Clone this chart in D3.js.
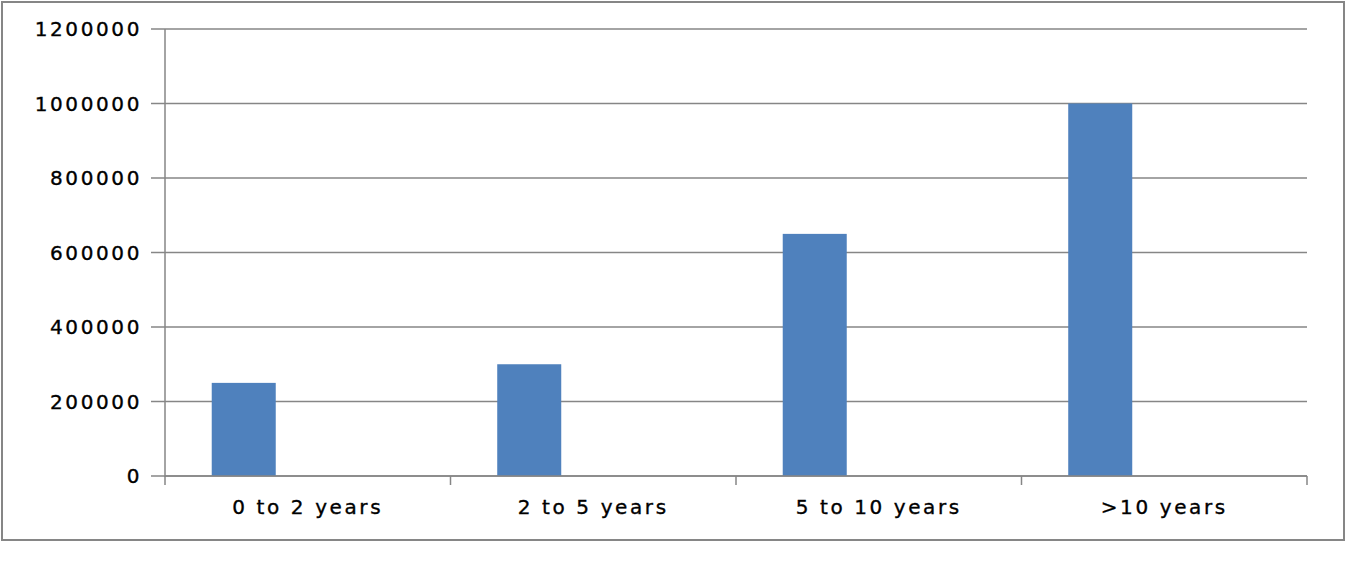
<!DOCTYPE html>
<html>
<head>
<meta charset="utf-8">
<script src="https://cdn.jsdelivr.net/npm/d3@7"></script>
<style>
  body { margin: 0; background: #fff; }
  text { font-family: "DejaVu Sans", Verdana, sans-serif; fill: #000; stroke: #000; stroke-width: 0.35px; }
</style>
</head>
<body>
<div id="container"></div>
<script>
/* DATA */
const categories = ["0 to 2 years", "2 to 5 years", "5 to 10 years", ">10 years"];
const values = [250000, 300000, 650000, 1000000];
// Excel clustered layout: one filled series, two empty slots
const seriesSlots = ["s1", "s2", "s3"];
const yTicks = [0, 200000, 400000, 600000, 800000, 1000000, 1200000];

/* CONSTANTS */
const width = 1360, height = 561;
const plot = { left: 165, right: 1307, top: 29, bottom: 476 };
const grey = "#868686";

const svg = d3.select("#container")
  .append("svg")
  .attr("width", width)
  .attr("height", height);

// outer frame
svg.append("rect")
  .attr("x", 2).attr("y", 2)
  .attr("width", 1342).attr("height", 538)
  .attr("fill", "#fff")
  .attr("stroke", grey)
  .attr("stroke-width", 2);

// + SCALES
const xScale = d3.scaleBand()
  .domain(categories)
  .range([plot.left, plot.right]);

const slotScale = d3.scaleBand()
  .domain(seriesSlots)
  .range([0, xScale.bandwidth()])
  .paddingOuter(0.73);

const yScale = d3.scaleLinear()
  .domain([0, 1200000])
  .range([plot.bottom, plot.top]);

// gridlines + y ticks
svg.append("g")
  .selectAll("line")
  .data(yTicks)
  .join("line")
  .attr("x1", plot.left - 14)
  .attr("x2", plot.right)
  .attr("y1", d => yScale(d))
  .attr("y2", d => yScale(d))
  .attr("stroke", grey)
  .attr("stroke-width", 1.5);

svg.append("g")
  .selectAll("text")
  .data(yTicks)
  .join("text")
  .attr("x", 142)
  .attr("y", d => yScale(d))
  .attr("dy", "0.36em")
  .attr("text-anchor", "end")
  .style("font-size", "20px")
  .style("letter-spacing", "2.6px")
  .text(d => d);

// bars
svg.append("g")
  .selectAll("rect")
  .data(values)
  .join("rect")
  .attr("x", (d, i) => xScale(categories[i]) + slotScale("s1"))
  .attr("width", slotScale.bandwidth())
  .attr("y", d => yScale(d))
  .attr("height", d => yScale(0) - yScale(d))
  .attr("fill", "#4F81BD");

// y axis line
svg.append("line")
  .attr("x1", plot.left).attr("x2", plot.left)
  .attr("y1", plot.top).attr("y2", plot.bottom + 1)
  .attr("stroke", grey)
  .attr("stroke-width", 1.5);

// x axis line + ticks
svg.append("line")
  .attr("x1", plot.left).attr("x2", plot.right)
  .attr("y1", plot.bottom).attr("y2", plot.bottom)
  .attr("stroke", grey)
  .attr("stroke-width", 1.5);

const xBounds = categories.map(c => xScale(c)).concat([plot.right]);
svg.append("g")
  .selectAll("line")
  .data(xBounds)
  .join("line")
  .attr("x1", d => d).attr("x2", d => d)
  .attr("y1", plot.bottom).attr("y2", plot.bottom + 9)
  .attr("stroke", grey)
  .attr("stroke-width", 1.5);

svg.append("g")
  .selectAll("text")
  .data(categories)
  .join("text")
  .attr("x", d => xScale(d) + xScale.bandwidth() / 2)
  .attr("y", 507)
  .attr("dy", "0.36em")
  .attr("text-anchor", "middle")
  .style("font-size", "20px")
  .style("letter-spacing", "2.6px")
  .text(d => d);
</script>
</body>
</html>
